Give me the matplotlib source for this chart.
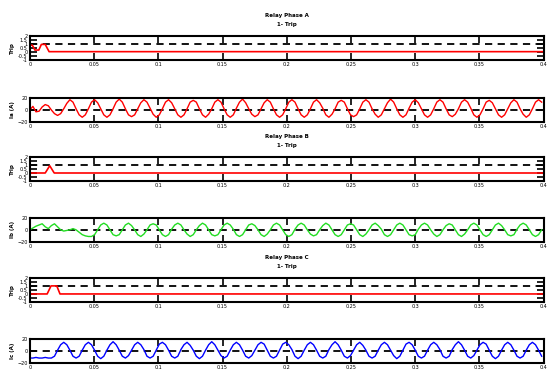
import numpy as np
import matplotlib
matplotlib.use('Agg')
import matplotlib.pyplot as plt

# relay trip signals (time, value)
trip_a_t = [0, 0.002, 0.004, 0.007, 0.009, 0.012, 0.015, 0.4]
trip_a_v = [0.8, 0.8, 0.2, 0.2, 0.9, 0.9, 0, 0]
trip_b_t = [0, 0.012, 0.0155, 0.019, 0.4]
trip_b_v = [0, 0, 0.9, 0, 0]
trip_c_t = [0, 0.0135, 0.0165, 0.021, 0.0235, 0.4]
trip_c_v = [0, 0, 1, 1, 0, 0]

# phase currents, one sample every 2.4 ms
ia = [0, 6, -3, -2, 5,
      9, 7, 0, -6, -9, -6, 2, 11,
      17, 13, 2, -8, -12, -8, 2, 13,
      17, 12, 2, -8, -12, -8, 2, 13,
      18, 13, 2, -8, -11, -8, 2, 12,
      17, 13, 3, -7, -12, -8, 2, 13,
      17, 12, 2, -8, -12, -8, 2, 13,
      16, 13, 2, -8, -12, -7, 2, 13,
      17, 13, 2, -8, -12, -8, 3, 13,
      18, 12, 2, -7, -11, -8, 2, 12,
      17, 13, 2, -8, -12, -8, 2, 13,
      17, 13, 2, -8, -12, -8, 2, 13,
      17, 12, 3, -8, -12, -7, 2, 13,
      16, 13, 2, -8, -11, -8, 2, 13,
      17, 13, 2, -7, -12, -8, 2, 12,
      18, 13, 2, -8, -12, -8, 3, 13,
      17, 12, 2, -8, -12, -8, 2, 13,
      17, 13, 2, -8, -11, -7, 2, 13,
      17, 13, 3, -8, -12, -8, 2, 13,
      16, 12, 2, -8, -12, -8, 2, 12,
      17, 13, 2, -7, -12, -8, 2, 13,
      17, 13]
ib = [0, 3, 6, 8, 10, 5, 2, 7, 10, 5, 0, -2,
      -1, 0, 2, 0, -4, -8, -10, -11,
      -11, -8, 0, 8, 11, 8, 0, -8,
      -10, -8, 0, 8, 11, 7, 0, -8,
      -11, -7, 0, 8, 10, 8, 0, -8,
      -11, -8, 1, 8, 11, 8, 0, -7,
      -11, -8, 0, 7, 11, 8, 0, -8,
      -10, -8, 0, 8, 11, 8, 1, -8,
      -11, -8, 0, 8, 10, 7, 0, -8,
      -11, -7, 0, 8, 11, 8, 0, -8,
      -11, -8, 1, 8, 11, 8, 0, -7,
      -10, -8, 0, 7, 11, 8, 0, -8,
      -11, -8, 0, 8, 10, 8, 0, -8,
      -11, -7, 0, 8, 11, 7, 1, -8,
      -11, -8, 0, 8, 11, 8, 0, -8,
      -10, -8, 1, 8, 11, 8, 0, -7,
      -11, -8, 0, 7, 10, 8, 0, -8,
      -11, -7, 0, 8, 11, 8, 0, -8,
      -11, -8, 0, 8, 11, 7, 0, -8,
      -10, -8, 1, 8, 11, 8, 0, -8,
      -11, -8, 0]
ic = [-12, -12, -11, -12, -12, -11, -12,
      -12, -9, 1, 10, 14, 10, 1, -9,
      -12, -9, 1, 10, 14, 10, 1, -9,
      -13, -9, 1, 10, 15, 10, 1, -9,
      -12, -8, 1, 10, 14, 10, 2, -9,
      -12, -9, 1, 11, 14, 10, 1, -9,
      -12, -9, 2, 10, 14, 9, 1, -9,
      -13, -9, 1, 10, 15, 10, 1, -8,
      -12, -9, 1, 10, 14, 10, 1, -9,
      -12, -8, 1, 10, 14, 11, 1, -9,
      -12, -9, 1, 11, 14, 10, 2, -9,
      -13, -9, 1, 10, 14, 10, 1, -9,
      -12, -9, 2, 10, 15, 10, 1, -9,
      -12, -8, 1, 10, 14, 9, 1, -9,
      -12, -9, 1, 10, 14, 10, 1, -8,
      -13, -9, 1, 11, 14, 10, 1, -9,
      -12, -9, 1, 10, 14, 10, 2, -9,
      -12, -9, 2, 10, 15, 10, 1, -9,
      -12, -8, 1, 10, 14, 11, 1, -9,
      -13, -9, 1, 10, 14, 10, 1, -9,
      -12, -9, 1, 10, 14, 10, 1, -9]
t_cur = np.arange(len(ia)) * 0.0024

titles = ['Relay Phase A\n1- Trip', 'Relay Phase B\n1- Trip', 'Relay Phase C\n1- Trip']
cur_labels = ['Ia (A)', 'Ib (A)', 'Ic (A)']
cur_colors = ['red', '#22dd22', 'blue']
xticks = [0, 0.05, 0.1, 0.15, 0.2, 0.25, 0.3, 0.35, 0.4]
xticklabels = ['0', '0.05', '0.1', '0.15', '0.2', '0.25', '0.3', '0.35', '0.4']

trips = [(trip_a_t, trip_a_v), (trip_b_t, trip_b_v), (trip_c_t, trip_c_v)]
currents = [ia, ib, ic]

fig = plt.figure(figsize=(5.52, 3.78), dpi=100)
left, width = 0.054, 0.931
bottoms = [0.842, 0.677, 0.521, 0.360, 0.201, 0.040]
h = 0.064

def style(ax):
    ax.set_xlim(0, 0.4)
    ax.set_xticks(xticks)
    ax.set_xticklabels(xticklabels)
    ax.tick_params(direction='in', top=True, right=True, length=5, width=1.2,
                   labelsize=3.5, pad=1.5)
    for s in ax.spines.values():
        s.set_linewidth(1.5)

for i in range(3):
    ax = fig.add_axes([left, bottoms[2 * i], width, h])
    tt, tv = trips[i]
    ax.plot([0, 0.4], [1, 1], 'k--', lw=1.3, dashes=(4, 3))
    ax.plot(tt, tv, color='red', lw=1.2)
    ax.set_ylim(-1, 2)
    ax.set_yticks([-1, -0.5, 0, 0.5, 1, 1.5, 2])
    ax.set_yticklabels(['-1', '-0.5', '0', '0.5', '1', '1.5', '2'], fontsize=2.5)
    ax.set_ylabel('Trip', fontsize=4, labelpad=2, fontweight='bold')
    ax.set_title(titles[i], fontsize=4, pad=7, fontweight='bold', linespacing=2.0)
    style(ax)

    ax = fig.add_axes([left, bottoms[2 * i + 1], width, h])
    ax.plot([0, 0.4], [0, 0], 'k--', lw=1.3, dashes=(4, 3))
    ax.plot(t_cur, currents[i], color=cur_colors[i], lw=1.0)
    ax.set_ylim(-20, 20)
    ax.set_yticks([-20, 0, 20])
    ax.set_ylabel(cur_labels[i], fontsize=4, labelpad=2, fontweight='bold')
    style(ax)
    ax.tick_params(axis='y', labelsize=3.5)

fig.savefig('out.png', dpi=100)
